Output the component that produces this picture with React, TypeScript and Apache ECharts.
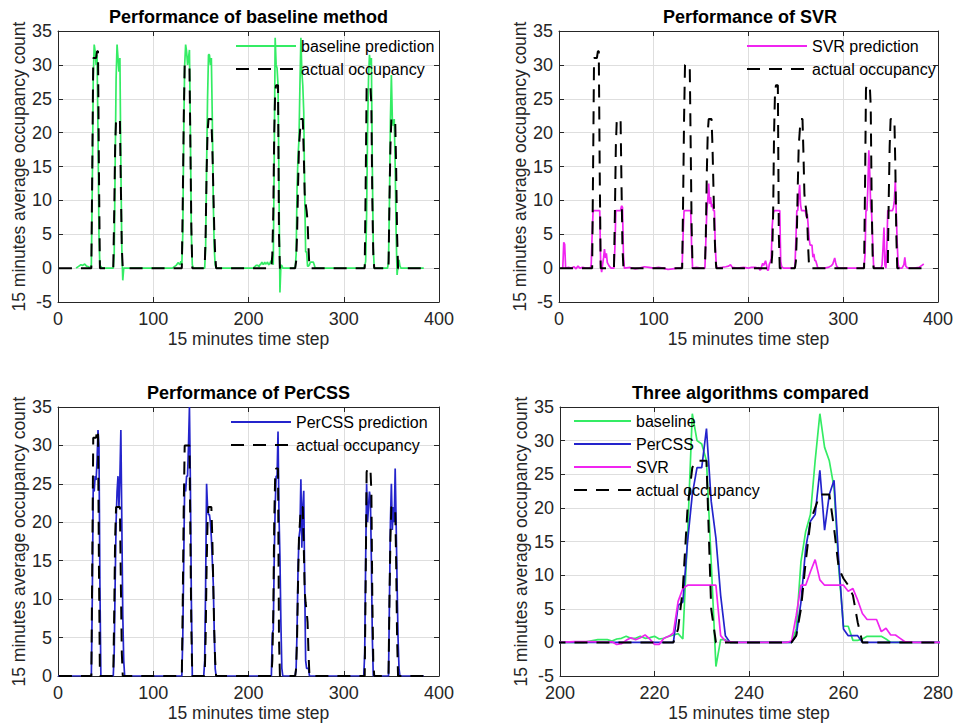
import React, { useEffect, useRef } from "react";
import * as echarts from "echarts";

const FONT = '"Liberation Sans", Arial, Helvetica, sans-serif';

const titles = [
  "Performance of baseline method",
  "Performance of SVR",
  "Performance of PerCSS",
  "Three algorithms compared",
];
const xAxisName = "15 minutes time step";
const yAxisName = "15 minutes average occupancy count";

// [min, max, interval]
const xRanges: [number, number, number][] = [
  [0, 400, 100],
  [0, 400, 100],
  [0, 400, 100],
  [200, 280, 20],
];
const yRanges: [number, number, number][] = [
  [-5, 35, 5],
  [-5, 35, 5],
  [0, 35, 5],
  [-5, 35, 5],
];

// [time step, occupancy]
const actualOccupancy: [number, number][] = [
  [1, 0], [35, 0], [36, 15], [37, 31], [40, 31], [41, 32], [42, 32], [43, 14], [44, 0],
  [58, 0], [59, 8], [60, 18], [61, 22], [65, 22], [66, 12], [67, 3], [68, 0],
  [130, 0], [131, 10], [132, 22], [133, 30], [138, 30], [139, 18], [140, 6], [141, 0],
  [154, 0], [155, 5], [156, 14], [157, 20], [158, 22], [161, 22], [162, 18], [163, 12], [164, 6], [165, 2], [166, 0],
  [224, 0], [225, 2], [226, 8], [227, 20], [228, 26], [229, 27], [231, 27], [232, 5], [233, 0],
  [249, 0], [250, 1], [251, 5], [252, 12], [253, 18], [254, 20], [255, 22], [257, 22], [258, 17], [259, 11], [260, 9.5], [261, 8.5], [262, 7], [263, 3], [264, 0],
  [322, 0], [323, 12], [324, 26.5], [325, 27], [328, 27], [329, 24], [330, 10], [331, 2], [332, 0],
  [347, 0], [348, 10], [349, 18], [350, 22], [354, 22], [355, 15], [356, 5], [357, 0],
  [384, 0],
];

const baselinePrediction: [number, number][] = [
  [19, 0], [22, 0.3], [24, 0.5], [26, 0.4], [28, 0.6], [30, 0.3], [32, 0.2], [34, 0], [35, 0.5], [36, 12], [37, 28], [38, 33], [39, 32], [40, 30], [41, 31.5], [42, 20], [43, 5], [44, 0], [45, 0.3], [46, 0],
  [58, 0], [59, 2], [60, 15], [61, 28], [62, 33], [63, 31], [64, 29], [65, 31], [66, 15], [67, 3], [68, -1.8], [69, 0],
  [120, 0], [124, 0.4], [126, 0.8], [128, 0.5], [129, 1], [130, 0.5], [131, 5], [132, 20], [133, 30], [134, 33], [135, 32], [136, 30], [137, 31], [138, 32.2], [139, 20], [140, 5], [141, 0.5], [142, 0],
  [154, 0], [155, 3], [156, 15], [157, 25], [158, 31.5], [159, 31.5], [160, 30], [161, 31], [162, 22], [163, 10], [164, 3], [165, 0.5], [166, 0],
  [205, 0], [208, 0.4], [210, 0.4], [211, 0.2], [212, 0.5], [213, 0.6], [214, 0.9], [215, 0.6], [216, 0.6], [217, 0.9], [218, 0.6], [219, 0.7], [220, 0.9], [221, 0.5], [222, 0.6], [223, 0.9], [224, 1.1], [225, 1.3], [226, 0.5], [227, 16], [228, 34], [229, 30], [230, 29.5], [231, 27], [232, 12], [233, -3.6], [234, 0.4], [235, 0.4], [236, 0],
  [249, 0], [250, 2], [251, 12], [252, 16.5], [253, 19], [254, 27], [255, 34], [256, 29], [257, 27], [258, 23], [259, 11], [260, 2.4], [261, 2.4], [262, 0.3], [263, 0.3], [264, 0.5], [265, 0.9], [266, 0.9], [267, 0.9], [268, 0.9], [269, 0.5], [270, 0],
  [321, 0], [322, 0.3], [323, 1], [324, 8], [325, 20], [326, 28], [327, 31.5], [328, 30], [329, 31], [330, 15], [331, 3], [332, 0],
  [346, 0], [347, 1], [348, 10], [349, 22], [350, 28.5], [351, 22], [352, 21], [353, 22], [354, 15], [355, 5], [356, -1], [357, 0.5], [358, 1.2], [359, 0.3], [360, 0], [384, 0],
];

const svrPrediction: [number, number][] = [
  [2, 0], [4, 0], [5, 3.8], [6, 3.5], [7, 0], [10, 0.1], [13, 0], [16, 0.2], [18, -0.1], [20, 0.3], [22, 0], [25, 0.1], [28, 0], [33, 0],
  [34, 0.5], [35, 5], [36, 8.5], [43, 8.5], [44, 0.5], [45, -0.6], [46, 0.5], [47, 1.5], [48, 2.8], [49, 1.5], [50, 2.2], [51, 0.8], [53, 0.3], [55, 0],
  [58, 0], [59, 3], [60, 8.5], [65, 8.5], [66, 9.2], [67, 9], [68, 2], [69, 0],
  [75, 0.1], [80, -0.1], [85, 0], [90, 0.2], [95, 0.1], [100, 0], [105, 0.1], [110, 0], [115, -0.2], [120, -0.1], [125, 0], [129, 0],
  [130, 0.5], [131, 5], [132, 8.5], [139, 8.5], [140, 3], [141, 0], [145, 0.1], [150, 0], [154, 0],
  [155, 4], [156, 8.5], [157, 10], [158, 12.5], [159, 9.5], [160, 10.5], [161, 9], [162, 9.5], [163, 8.5], [164, 8.5], [165, 3], [166, 0.5], [167, 0],
  [172, 0.1], [176, 0.2], [179, 0.3], [181, 0.5], [183, 0.1], [188, 0], [195, 0.1], [200, 0], [203, 0.1], [207, 0.1], [210, 0],
  [211, 0.1], [212, -0.3], [213, -0.2], [214, 0.3], [215, 0.7], [216, 0.4], [217, 0.7], [218, 1.1], [219, 0.5], [220, -0.3], [221, -0.3], [222, 0.6], [223, 0.9], [224, 1.4],
  [225, 6.1], [226, 8], [227, 8.5], [233, 8.5], [234, 1], [235, 0.2], [237, 0], [245, 0], [248, 0],
  [249, 0.2], [250, 4], [251, 8.5], [252, 8.5], [253, 10.5], [254, 12.3], [255, 9.3], [256, 8.5], [260, 8.5], [261, 7.6], [262, 8], [263, 6.3], [264, 4.3], [265, 3.4], [266, 3.4], [267, 3.4], [268, 1.6], [269, 2.1], [270, 1.1], [271, 1.1], [272, 0.6], [273, 0.1], [275, 0],
  [280, 0], [284, 0.1], [287, 0.3], [289, 0.6], [291, 1.5], [292, 0.8], [293, 0.3], [295, 0], [310, 0], [321, 0],
  [322, 0.3], [323, 2], [324, 8.5], [325, 8.5], [326, 12], [327, 17.4], [328, 14], [329, 9], [330, 8], [331, 4], [332, 0.5], [333, 0],
  [340, 0], [341, 0.5], [342, 3], [343, 6], [344, 0.5], [345, 0], [346, 3], [347, 8.5], [352, 8.5], [353, 9], [354, 10], [355, 12.9], [356, 8], [357, 3.5], [358, 0.5], [359, 0],
  [362, 0], [364, 0.5], [365, 1.6], [366, 0.3], [368, 0], [375, 0], [380, 0.1], [383, 0.4], [385, 0.6],
];

const percssPrediction: [number, number][] = [
  [0, 0], [35, 0], [36, 10], [37, 25], [38, 24], [39, 26], [40, 25.5], [41, 28], [42, 32], [43, 30], [44, 12], [45, 0],
  [58, 0], [59, 3], [60, 12], [61, 20], [62, 24], [63, 26], [64, 22], [65, 26], [66, 32], [67, 20], [68, 8], [69, 2], [70, 0],
  [130, 0], [131, 5], [132, 15], [133, 25], [134, 24], [135, 26], [136, 26], [137, 30], [138, 35], [139, 25], [140, 10], [141, 0],
  [153, 0], [154, 2], [155, 12], [156, 25], [157, 22], [158, 21], [159, 21], [160, 20], [161, 18], [162, 15], [163, 12], [164, 6], [165, 1], [166, 0],
  [224, 0], [225, 5.5], [226, 6], [227, 15], [228, 22], [229, 26], [230, 26], [231, 31.8], [232, 21], [233, 15.5], [234, 7], [235, 1], [236, 0],
  [249, 0], [250, 1], [251, 6], [252, 14], [253, 18], [254, 19], [255, 25.6], [256, 16.7], [257, 22], [258, 24.1], [259, 12], [260, 2], [261, 1], [262, 1], [263, 1], [264, 0],
  [321, 0], [322, 3], [323, 15], [324, 25], [325, 20], [326, 22], [327, 24], [328, 23], [329, 15], [330, 5], [331, 0],
  [347, 0], [348, 10], [349, 20], [350, 25], [351, 19], [352, 22], [353, 20], [354, 27], [355, 20], [356, 12], [357, 5], [358, 1], [359, 0], [384, 0],
];

const GREEN = "#34ec64";
const MAGENTA = "#f024f0";
const BLUE = "#2424cc";
const AXIS = "#262626";
const GRIDLINE = "#dedede";
const DASH = [13, 9];

const gridRects = [
  { left: 58, top: 31, width: 381, height: 271 },
  { left: 559, top: 31, width: 382, height: 271 },
  { left: 58, top: 407, width: 381, height: 269 },
  { left: 560, top: 407, width: 381, height: 270 },
];

function lineSeries(name: string, data: [number, number][], idx: number, color: string, dashed = false) {
  return {
    type: "line",
    name,
    data,
    xAxisIndex: idx * 2,
    yAxisIndex: idx * 2,
    symbol: "none",
    showSymbol: false,
    clip: true,
    lineStyle: { color, width: dashed ? 2 : 1.7, type: dashed ? DASH : "solid" },
    itemStyle: { color },
    emphasis: { disabled: true },
  };
}

export default function App() {
  const ref = useRef<HTMLDivElement>(null);
  useEffect(() => {
    if (!ref.current) return;
    const chart = echarts.init(ref.current, undefined, { renderer: "svg" });

    const xAxes: any[] = [];
    const yAxes: any[] = [];
    gridRects.forEach((_, i) => {
      const [xmin, xmax, xint] = xRanges[i];
      const [ymin, ymax, yint] = yRanges[i];
      xAxes.push({
        type: "value", gridIndex: i, min: xmin, max: xmax, interval: xint,
        name: xAxisName, nameLocation: "middle", nameGap: 28,
        nameTextStyle: { fontSize: 17.5, color: AXIS, fontFamily: FONT },
        axisLine: { show: true, onZero: false, lineStyle: { color: AXIS, width: 1 } },
        axisTick: { show: true, inside: true, length: 5, lineStyle: { color: AXIS } },
        axisLabel: { fontSize: 18, color: AXIS, fontFamily: FONT, margin: 8 },
        splitLine: { show: true, lineStyle: { color: GRIDLINE, width: 1 } },
      });
      xAxes.push({
        type: "value", gridIndex: i, min: xmin, max: xmax, interval: xint, position: "top",
        axisLine: { show: true, onZero: false, lineStyle: { color: AXIS, width: 1 } },
        axisTick: { show: true, inside: true, length: 5, lineStyle: { color: AXIS } },
        axisLabel: { show: false }, splitLine: { show: false },
      });
      yAxes.push({
        type: "value", gridIndex: i, min: ymin, max: ymax, interval: yint,
        name: yAxisName, nameLocation: "middle", nameGap: 30,
        nameTextStyle: { fontSize: 17.5, color: AXIS, fontFamily: FONT },
        axisLine: { show: true, onZero: false, lineStyle: { color: AXIS, width: 1 } },
        axisTick: { show: true, inside: true, length: 5, lineStyle: { color: AXIS } },
        axisLabel: { fontSize: 18, color: AXIS, fontFamily: FONT, margin: 6 },
        splitLine: { show: true, lineStyle: { color: GRIDLINE, width: 1 } },
      });
      yAxes.push({
        type: "value", gridIndex: i, min: ymin, max: ymax, interval: yint, position: "right",
        axisLine: { show: true, onZero: false, lineStyle: { color: AXIS, width: 1 } },
        axisTick: { show: true, inside: true, length: 5, lineStyle: { color: AXIS } },
        axisLabel: { show: false }, splitLine: { show: false },
      });
    });

    const legendBase = {
      orient: "vertical",
      itemWidth: 60,
      itemHeight: 16,
      itemGap: 7,
      padding: 0,
      selectedMode: false,
      itemStyle: { opacity: 0, borderWidth: 0 },
      textStyle: { fontSize: 16, color: "#000", fontFamily: FONT },
    };

    chart.setOption({
      animation: false,
      backgroundColor: "#fff",
      title: titles.map((t, i) => ({
        text: t,
        left: gridRects[i].left + gridRects[i].width / 2,
        top: i < 2 ? 8 : 384,
        textAlign: "center",
        padding: 0,
        textStyle: { fontSize: 18, fontWeight: "bold", color: "#000", fontFamily: FONT },
      })),
      grid: gridRects.map((g) => ({ ...g, containLabel: false })),
      xAxis: xAxes,
      yAxis: yAxes,
      legend: [
        { ...legendBase, left: 235, top: 38, data: ["baseline prediction", "actual occupancy"] },
        { ...legendBase, left: 746, top: 38, data: ["SVR prediction", "actual occupancy"] },
        { ...legendBase, left: 230, top: 414, data: ["PerCSS prediction", "actual occupancy"] },
        { ...legendBase, left: 573, top: 413, itemWidth: 57, data: ["baseline", "PerCSS", "SVR", "actual occupancy"] },
      ],
      series: [
        lineSeries("baseline prediction", baselinePrediction, 0, GREEN),
        lineSeries("actual occupancy", actualOccupancy, 0, "#000", true),
        lineSeries("SVR prediction", svrPrediction, 1, MAGENTA),
        lineSeries("actual occupancy", actualOccupancy, 1, "#000", true),
        lineSeries("PerCSS prediction", percssPrediction, 2, BLUE),
        lineSeries("actual occupancy", actualOccupancy, 2, "#000", true),
        lineSeries("baseline", baselinePrediction, 3, GREEN),
        lineSeries("PerCSS", percssPrediction, 3, BLUE),
        lineSeries("SVR", svrPrediction, 3, MAGENTA),
        lineSeries("actual occupancy", actualOccupancy, 3, "#000", true),
      ],
    });
    return () => chart.dispose();
  }, []);
  return (
    <div
      ref={ref}
      style={{ position: "absolute", left: 0, top: 0, width: 956, height: 723, background: "#fff" }}
    />
  );
}
